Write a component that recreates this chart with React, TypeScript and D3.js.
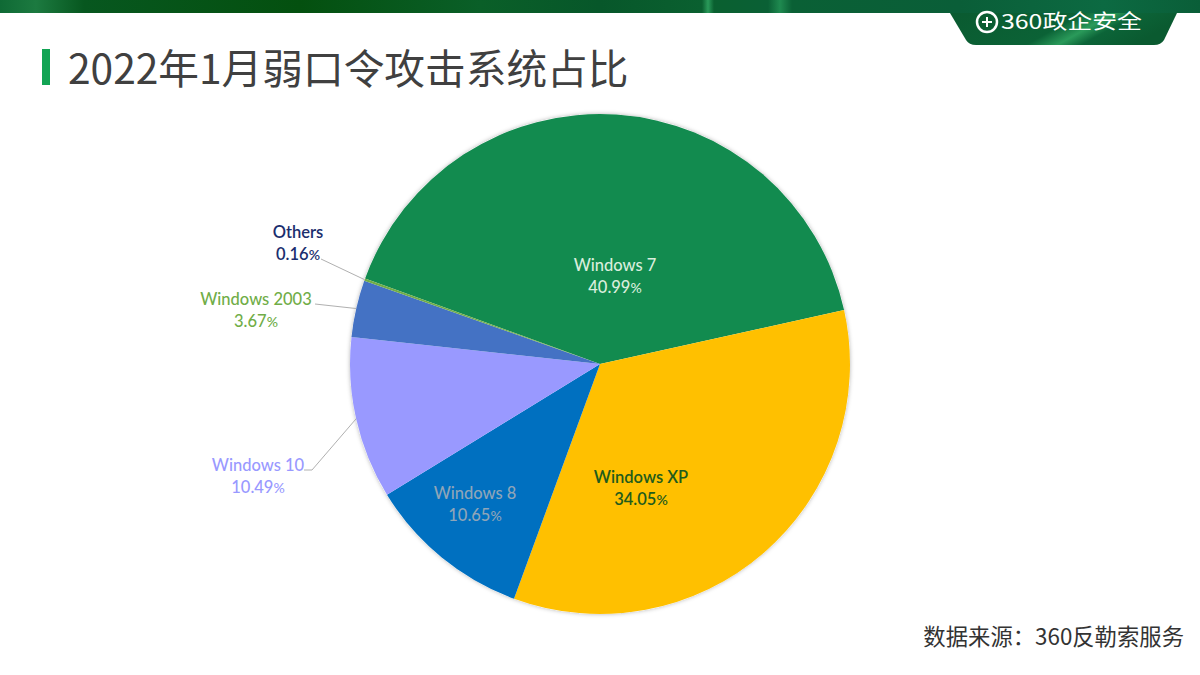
import { useRef, useEffect } from 'react';
import * as d3 from 'd3';

const categories = ['Windows 7', 'Windows XP', 'Windows 8', 'Windows 10', 'Windows 2003', 'Others'];
const shares = [40.99, 34.05, 10.65, 10.49, 3.67, 0.16];
const sliceColors = ['#128B4F', '#FFC000', '#0070C0', '#9999FF', '#4472C4', '#70AD47'];
const labelColors = ['#D9EEDD', '#1F5C1C', '#8FA5B8', '#9999FF', '#70AD47', '#1B2E6E'];

// label centre, hand placed like in the slide
const labelAt: [number, number][] = [
  [615, 265],
  [641, 477],
  [475, 493],
  [258, 465],
  [256, 299],
  [298, 232],
];
// where the leader line ends, only for the outside labels
const leaderEnd: ([number, number] | null)[] = [
  null,
  null,
  null,
  [304, 470],
  [315, 304],
  [321, 259],
];

const headerStops: [number, string][] = [
  [0, '#0F6A35'],
  [0.03, '#1C7A40'],
  [0.07, '#07571F'],
  [0.25, '#04500F'],
  [0.4, '#0A5F28'],
  [0.5, '#07572A'],
  [0.585, '#0A6030'],
  [0.59, '#2A9A5A'],
  [0.595, '#0A6030'],
  [0.64, '#0A6035'],
  [0.65, '#1F8A50'],
  [0.66, '#0A6035'],
  [0.8, '#0A5E38'],
  [0.92, '#0C6A42'],
  [1, '#0A5E38'],
];

const FONT = "Lato, 'Noto Sans', sans-serif";
const CJK = "'Noto Sans CJK SC', 'Noto Sans', sans-serif";

export default function App() {
  const svgRef = useRef<SVGSVGElement>(null);

  useEffect(() => {
    const svg = d3.select(svgRef.current);
    svg.selectAll('*').remove();

    const cx = 600;
    const cy = 364;
    const radius = 250;

    const defs = svg.append('defs');
    const grad = defs.append('linearGradient').attr('id', 'band').attr('x1', 0).attr('x2', 1).attr('y1', 0).attr('y2', 0);
    headerStops.forEach(([o, c]) => grad.append('stop').attr('offset', o).attr('stop-color', c));
    const tabGrad = defs.append('linearGradient').attr('id', 'tab').attr('x1', 0).attr('x2', 1).attr('y1', 0).attr('y2', 0.25);
    tabGrad.append('stop').attr('offset', 0).attr('stop-color', '#0A5A30');
    tabGrad.append('stop').attr('offset', 0.55).attr('stop-color', '#0B6236');
    tabGrad.append('stop').attr('offset', 0.68).attr('stop-color', '#2A9A5A');
    tabGrad.append('stop').attr('offset', 0.78).attr('stop-color', '#0C6438');
    tabGrad.append('stop').attr('offset', 1).attr('stop-color', '#0A5A30');
    const shadow = defs.append('filter').attr('id', 'pieShadow').attr('x', '-5%').attr('y', '-5%').attr('width', '110%').attr('height', '110%');
    shadow.append('feDropShadow').attr('dx', 0).attr('dy', 0).attr('stdDeviation', 2).attr('flood-color', '#000').attr('flood-opacity', 0.3);

    // Header band and logo tab
    svg.append('rect').attr('width', 1200).attr('height', 13).attr('fill', 'url(#band)');
    svg.append('path')
      .attr('d', 'M950 13 L1177 13 L1164 40 Q1161 45 1154 45 L976 45 Q969 45 966 40 Z')
      .attr('fill', 'url(#tab)');
    const logo = svg.append('g');
    logo.append('circle').attr('cx', 987).attr('cy', 22).attr('r', 10).attr('fill', 'none').attr('stroke', '#fff').attr('stroke-width', 2.5);
    logo.append('path').attr('d', 'M982 22 H992 M987 17 V27').attr('stroke', '#fff').attr('stroke-width', 2);
    logo.append('text')
      .attr('x', 1001).attr('y', 29)
      .attr('fill', '#fff')
      .attr('font-family', CJK)
      .attr('font-size', 20)
      .attr('textLength', 141)
      .attr('lengthAdjust', 'spacingAndGlyphs')
      .text('360政企安全');

    // Title
    svg.append('rect').attr('x', 42).attr('y', 49).attr('width', 8).attr('height', 36).attr('fill', '#12A454');
    svg.append('text')
      .attr('x', 68).attr('y', 84)
      .attr('fill', '#404040')
      .attr('font-family', CJK)
      .attr('font-size', 40.7)
      .text('2022年1月弱口令攻击系统占比');

    // Pie
    const rows = categories.map((name, i) => ({ name, value: shares[i], i }));
    const startAngle = (-70 * Math.PI) / 180;
    const pie = d3.pie<(typeof rows)[number]>()
      .value((d) => d.value)
      .sort(null)
      .startAngle(startAngle)
      .endAngle(startAngle + 2 * Math.PI);
    const arc = d3.arc<d3.PieArcDatum<(typeof rows)[number]>>().innerRadius(0).outerRadius(radius);
    const edge = d3.arc<d3.PieArcDatum<(typeof rows)[number]>>().innerRadius(radius).outerRadius(radius);

    const arcs = pie(rows);
    const g = svg.append('g').attr('transform', `translate(${cx},${cy})`);

    g.append('circle').attr('r', radius).attr('fill', '#fff').attr('filter', 'url(#pieShadow)');
    g.selectAll('path.slice')
      .data(arcs)
      .join('path')
      .attr('class', 'slice')
      .attr('d', arc)
      .attr('fill', (d) => sliceColors[d.data.i]);

    // Leader lines
    arcs.forEach((d) => {
      const end = leaderEnd[d.data.i];
      if (!end) return;
      const [px, py] = edge.centroid(d);
      const path = d3.path();
      path.moveTo(px + cx, py + cy);
      if (d.data.name === 'Windows 10') {
        path.lineTo(end[0] + 8, end[1]);
      }
      path.lineTo(end[0], end[1]);
      svg.append('path')
        .attr('d', path.toString())
        .attr('fill', 'none')
        .attr('stroke', '#B0B0B0')
        .attr('stroke-width', 1);
    });

    // Labels
    rows.forEach((d) => {
      const [lx, ly] = labelAt[d.i];
      const t = svg.append('text')
        .attr('text-anchor', 'middle')
        .attr('font-family', FONT)
        .attr('font-size', 16.5)
        .attr('font-weight', d.name === 'Others' || d.name === 'Windows XP' ? 600 : 500)
        .attr('fill', labelColors[d.i]);
      t.append('tspan').attr('x', lx).attr('y', ly + 6).text(d.name);
      const pct = t.append('tspan').attr('x', lx).attr('y', ly + 28).text(d.value.toFixed(2));
      pct.append('tspan').attr('font-size', 14).text('%');
    });

    // Source
    svg.append('text')
      .attr('x', 1184).attr('y', 645)
      .attr('text-anchor', 'end')
      .attr('fill', '#333')
      .attr('font-family', CJK)
      .attr('font-size', 22.35)
      .text('数据来源\uFF1A360反勒索服务');
  }, []);

  return (
    <svg
      ref={svgRef}
      width={1200}
      height={675}
      viewBox="0 0 1200 675"
      style={{ position: 'fixed', left: 0, top: 0, display: 'block', background: '#fff' }}
    />
  );
}
